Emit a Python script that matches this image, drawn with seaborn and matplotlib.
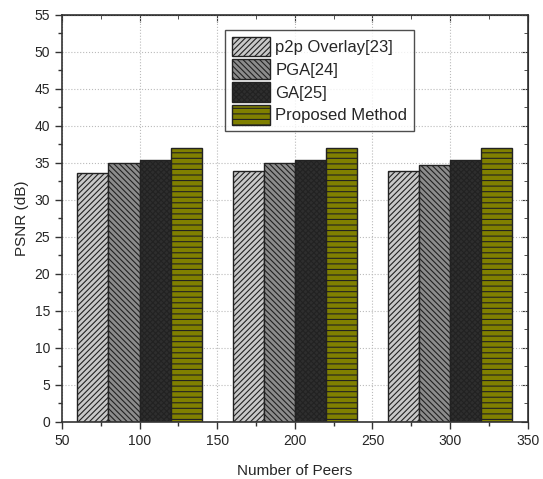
import matplotlib
matplotlib.use("Agg")
import matplotlib.pyplot as plt
from matplotlib.ticker import MultipleLocator
import seaborn as sns
import pandas as pd

# data
peers = [100, 200, 300]
methods = ["p2p Overlay[23]", "PGA[24]", "GA[25]", "Proposed Method"]
p2p_overlay = [33.65, 33.9, 33.9]
pga = [34.95, 35.0, 34.65]
ga = [35.45, 35.4, 35.45]
proposed = [37.05, 37.0, 37.05]

colors = ["#c8c8c8", "#8c8c8c", "#2e2e2e", "#808000"]
hatches = ["//////", "\\\\\\\\\\\\", "xxxxxx", "---"]

rows = []
for name, vals in zip(methods, [p2p_overlay, pga, ga, proposed]):
    for p, v in zip(peers, vals):
        rows.append({"Peers": p, "PSNR": v, "Method": name})
df = pd.DataFrame(rows)

sns.set_style("ticks")
plt.rcParams["font.family"] = ["Liberation Sans", "DejaVu Sans"]
plt.rcParams["hatch.linewidth"] = 0.8

fig = plt.figure(figsize=(5.43, 4.79), dpi=100)
ax = fig.add_axes([0.114, 0.119, 0.858, 0.850])

sns.barplot(data=df, x="Peers", y="PSNR", hue="Method", hue_order=methods,
            palette=colors, native_scale=True, width=0.8, ax=ax,
            edgecolor="#222222", linewidth=1.0, saturation=1, errorbar=None)

for cont, h in zip(ax.containers, hatches):
    for bar in cont:
        bar.set_hatch(h)

ax.set_xlim(50, 350)
ax.set_ylim(0, 55)
ax.xaxis.set_major_locator(MultipleLocator(50))
ax.xaxis.set_minor_locator(MultipleLocator(25))
ax.yaxis.set_major_locator(MultipleLocator(5))
ax.yaxis.set_minor_locator(MultipleLocator(2.5))
ax.tick_params(which="both", direction="out", labelsize=10, width=1.0, color="#333333")
ax.tick_params(which="major", length=5)
ax.tick_params(which="minor", length=3)
ax.grid(True, which="major", linestyle=":", color="#bbbbbb", linewidth=0.8)
ax.set_axisbelow(True)
for s in ax.spines.values():
    s.set_linewidth(1.2)
    s.set_color("#333333")

# inward ticks on top and right
sec_x = ax.secondary_xaxis("top")
sec_x.xaxis.set_major_locator(MultipleLocator(50))
sec_x.xaxis.set_minor_locator(MultipleLocator(25))
sec_x.tick_params(which="both", direction="in", labeltop=False, color="#333333")
sec_x.tick_params(which="major", length=5)
sec_x.tick_params(which="minor", length=3)
sec_y = ax.secondary_yaxis("right")
sec_y.yaxis.set_major_locator(MultipleLocator(5))
sec_y.yaxis.set_minor_locator(MultipleLocator(2.5))
sec_y.tick_params(which="both", direction="in", labelright=False, color="#333333")
sec_y.tick_params(which="major", length=5)
sec_y.tick_params(which="minor", length=3)

ax.set_xlabel("Number of Peers", fontsize=11, labelpad=12)
ax.set_ylabel("PSNR (dB)", fontsize=11, labelpad=4)

leg = ax.legend(loc="upper center", bbox_to_anchor=(0.553, 0.963), fontsize=12,
                frameon=True, fancybox=False, edgecolor="#222222",
                handlelength=2.3, handleheight=1.4, handletextpad=0.3,
                labelspacing=0.22, borderpad=0.4, borderaxespad=0.0)
leg.get_frame().set_linewidth(1.0)
leg.set_title(None)
for handle, h, c in zip(leg.legend_handles, hatches, colors):
    handle.set_hatch(h)
    handle.set_facecolor(c)
    handle.set_edgecolor("#222222")

fig.savefig("out.png", dpi=100)
